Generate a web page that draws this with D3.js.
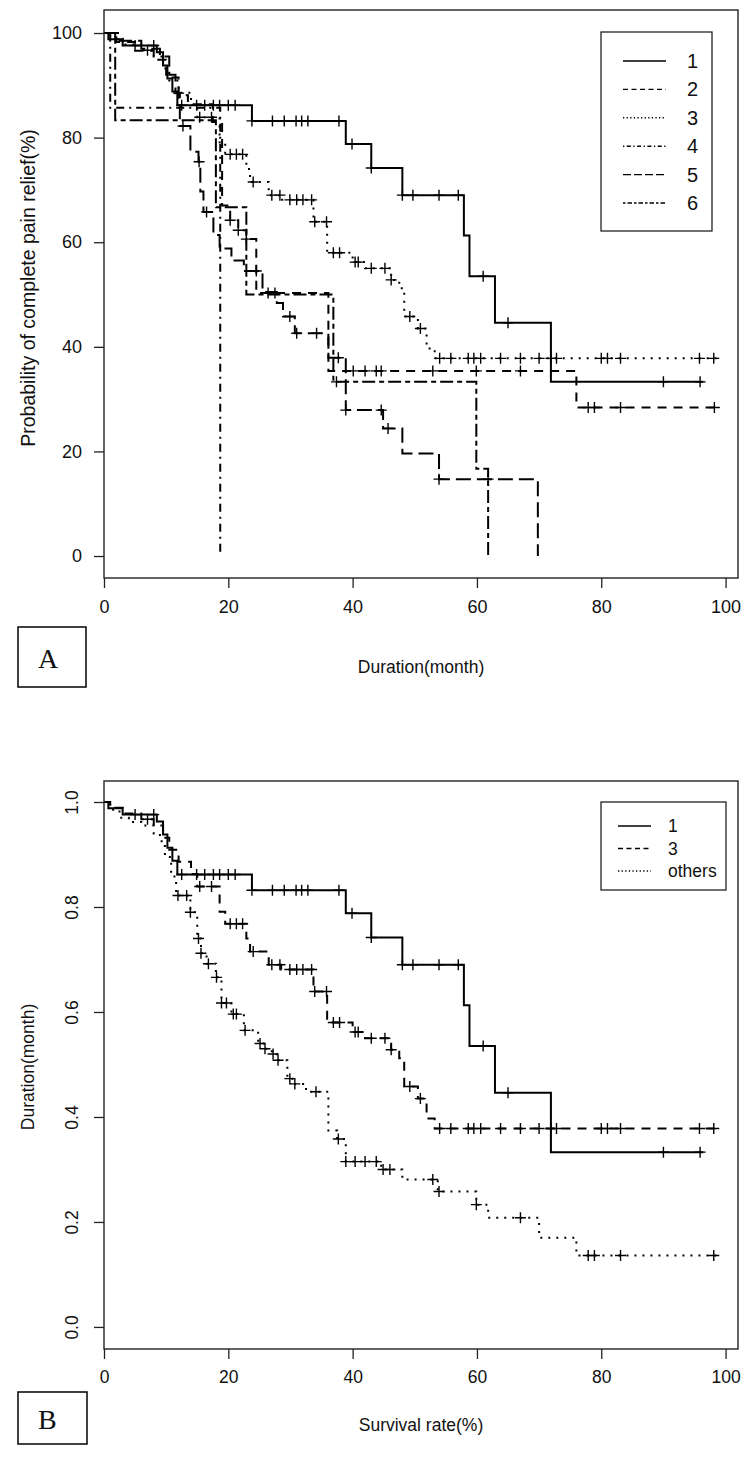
<!DOCTYPE html>
<html><head><meta charset="utf-8">
<script src="https://cdn.jsdelivr.net/npm/d3@7"></script>
<style>body{margin:0;background:#fff}</style>
</head><body>
<script>
// ---------- Panel A data (percent) ----------
const xTicks = [0, 20, 40, 60, 80, 100];
const yTicksA = [0, 20, 40, 60, 80, 100];
const yTicksB = [0, 0.2, 0.4, 0.6, 0.8, 1.0];
const legendA = ["1", "2", "3", "4", "5", "6"];
const legendB = ["1", "3", "others"];

const g1Time = [0, 0.7, 3, 8.5, 9.5, 10.2, 11, 11.8, 23.8, 38.9, 43.0, 48.0, 57.9, 58.8, 62.9, 71.9];
const g1Surv = [100, 98.8, 97.6, 96.3, 93.8, 91.3, 88.8, 86.2, 83.2, 78.8, 74.2, 69.0, 61.3, 53.5, 44.6, 33.3];
const g1Cens = [5, 8, 12.5, 14.9, 16.2, 17.6, 18.6, 20.0, 21.1, 23.8, 27.1, 29.0, 30.9, 31.8, 32.8, 37.8, 39.9, 43.0, 48.0, 49.7, 53.9, 57.0, 61.0, 65.0, 90.0, 95.9];
const g1End = 96.4;

const g2Time = [0, 2, 5, 8, 10, 12, 13.5, 17.5, 19, 20.3, 21.6, 22.9, 24.5, 36.1, 76.0];
const g2Surv = [100, 98.3, 96.6, 94.9, 91.5, 88.1, 86.4, 83.0, 67.0, 64.2, 62.3, 60.6, 50.3, 35.4, 28.4];
const g2Cens = [20.3, 21.6, 22.9, 26.4, 27.5, 40.1, 42.0, 43.8, 44.6, 52.9, 59.9, 67.0, 77.9, 78.9, 83.1, 98.2];
const g2End = 98.6;

const g3Time = [0, 1, 3, 6, 8, 9.5, 10.5, 12, 14, 15, 18.6, 19.5, 22.9, 23.5, 26.5, 28.5, 33.7, 35.9, 40.0, 42.0, 46.2, 47.5, 48.3, 50.5, 51.9, 53.2];
const g3Surv = [100, 98.9, 97.8, 96.7, 95.5, 93.2, 90.9, 88.6, 86.3, 83.9, 79.1, 76.8, 74.0, 71.5, 69.0, 68.1, 63.9, 58.0, 56.2, 55.0, 52.8, 51.2, 45.8, 43.5, 39.7, 37.8];
const g3Cens = [7, 15.4, 17.3, 20.3, 21.3, 22.3, 24.0, 27.0, 28.3, 29.9, 31.0, 32.0, 33.4, 33.9, 35.8, 36.9, 37.9, 40.4, 40.9, 43.0, 45.2, 46.2, 49.2, 50.9, 54.0, 55.8, 58.6, 59.5, 60.6, 63.8, 67.0, 70.0, 71.9, 72.8, 80.0, 81.0, 83.1, 95.8, 98.1];
const g3End = 98.8;

const g4Time = [0, 1.0, 18.7];
const g4Surv = [100, 85.7, 0];
const g4Cens = [];
const g4End = 18.7;

const g5Time = [0, 2.5, 6, 9, 10.5, 11.5, 12.2, 13.9, 15.2, 15.5, 16.0, 17.6, 18.6, 20.5, 22.5, 25.5, 27.8, 28.8, 30.7, 36.1, 38.9, 44.9, 48.0, 53.9, 69.8];
const g5Surv = [100, 98.5, 97, 95.5, 92, 88.5, 82.2, 77.3, 75.4, 69.7, 65.8, 61.4, 58.8, 56.5, 54.5, 50.5, 48.4, 45.8, 42.6, 37.9, 27.9, 24.4, 19.6, 14.7, 0];
const g5Cens = [12, 12.7, 15.3, 16.5, 24.5, 29.9, 31.0, 34.2, 37.7, 38.9, 44.6, 45.7, 53.9, 61.8];
const g5End = 69.8;

const g6Time = [0, 1.8, 18.0, 22.9, 36.9, 59.9, 61.8];
const g6Surv = [100, 83.3, 66.7, 50.0, 33.3, 16.7, 0];
const g6Cens = [37.4];
const g6End = 61.8;

// ---------- Panel B data (proportion) ----------
const b1Time = g1Time, b1Surv = g1Surv.map(v => v / 100), b1Cens = g1Cens, b1End = g1End;
const b3Time = g3Time, b3Surv = g3Surv.map(v => v / 100), b3Cens = g3Cens, b3End = g3End;
const bOTime = [0, 1, 2.5, 4, 6, 8, 9, 9.8, 10.8, 11.6, 13.9, 15.0, 15.6, 16.5, 18.0, 18.9, 20.5, 22.5, 24.8, 25.7, 27.0, 27.8, 29.5, 30.5, 32.5, 36.1, 37.5, 38.9, 44.6, 48.0, 53.7, 59.9, 61.8, 70.0, 76.0];
const bOSurv = [1, 0.985, 0.970, 0.962, 0.955, 0.940, 0.925, 0.895, 0.858, 0.822, 0.790, 0.740, 0.712, 0.692, 0.666, 0.617, 0.596, 0.565, 0.540, 0.530, 0.520, 0.508, 0.473, 0.463, 0.448, 0.374, 0.358, 0.315, 0.300, 0.281, 0.258, 0.233, 0.208, 0.170, 0.136];
const bOCens = [11.9, 13.3, 13.9, 15.2, 15.6, 16.8, 18.1, 18.9, 19.7, 20.8, 21.3, 22.7, 25.1, 25.9, 27.2, 28.0, 29.9, 30.7, 34.1, 37.7, 38.9, 40.4, 42.0, 43.8, 44.9, 46.0, 52.9, 53.9, 59.9, 67.0, 77.9, 78.9, 83.1, 98.1];
const bOEnd = 98.5;

// ---------- drawing ----------
const W = 754, H = 1463;
const FONT = "'Liberation Sans', Arial, sans-serif";
const svg = d3.select("body").append("svg").attr("width", W).attr("height", H).style("display", "block");
svg.append("rect").attr("width", W).attr("height", H).attr("fill", "#fff");

const DASH = {
  solid: null,
  dashed: "9,7",
  dotted: "2,6",
  dotdash: "2,5,8,5",
  longdash: "15,6",
  twodash: "5,4,13,4"
};
const LDASH = {
  solid: null,
  dashed: "5,3.5",
  dotted: "1.3,2.3",
  dotdash: "1.3,2.5,4,2.5",
  longdash: "8,3",
  twodash: "2.5,2,4.5,2"
};

function survAt(time, surv, t) {
  let v = surv[0];
  for (let i = 0; i < time.length; i++) if (time[i] <= t + 1e-9) v = surv[i];
  return v;
}

function drawPanel(p) {
  const g = svg.append("g");
  const x = d3.scaleLinear().domain([0, 102]).range([p.left, p.right]);
  const y = d3.scaleLinear().domain(p.yDomain).range([p.bottom, p.top]);

  const line = d3.line().x(d => x(d[0])).y(d => y(d[1])).curve(d3.curveStepAfter);
  p.groups.forEach(gr => {
    const pts = gr.time.map((t, i) => [t, gr.surv[i]]);
    pts.push([gr.end, gr.surv[gr.surv.length - 1]]);
    g.append("path").attr("d", line(pts)).attr("fill", "none")
      .attr("stroke", "#000").attr("stroke-width", 2)
      .attr("stroke-dasharray", DASH[gr.style]);
    const cr = 5.5;
    gr.cens.forEach(t => {
      const cx = x(t), cy = y(survAt(gr.time, gr.surv, t));
      g.append("path").attr("d", `M${cx - cr},${cy}H${cx + cr}M${cx},${cy - cr}V${cy + cr}`)
        .attr("stroke", "#000").attr("stroke-width", 1.4).attr("fill", "none");
    });
  });

  g.append("rect").attr("x", p.left).attr("y", p.top).attr("width", p.right - p.left).attr("height", p.bottom - p.top)
    .attr("fill", "none").attr("stroke", "#222").attr("stroke-width", 1.4);

  const xa = g.append("g").attr("transform", `translate(0,${p.bottom})`)
    .call(d3.axisBottom(x).tickValues(xTicks).tickSize(10).tickPadding(12).tickFormat(d3.format("d")));
  xa.select(".domain").remove();
  xa.selectAll("line").attr("stroke", "#222").attr("stroke-width", 1.3);
  xa.selectAll("text").attr("font-family", FONT).attr("font-size", p.tickFont).attr("fill", "#111");

  const ya = g.append("g").attr("transform", `translate(${p.left},0)`)
    .call(d3.axisLeft(y).tickValues(p.yTicks).tickSize(10).tickPadding(12).tickFormat(p.yFormat));
  ya.select(".domain").remove();
  ya.selectAll("line").attr("stroke", "#222").attr("stroke-width", 1.3);
  const yt = ya.selectAll("text").attr("font-family", FONT).attr("font-size", p.tickFont).attr("fill", "#111");
  if (p.rotateY) {
    yt.attr("x", null).attr("dy", null).attr("text-anchor", "middle")
      .attr("dominant-baseline", "central")
      .attr("transform", `translate(${p.yLabelX - p.left},0) rotate(-90)`);
  } else {
    yt.attr("x", p.yLabelX - p.left);
  }

  g.append("text").attr("x", p.xTitle[0]).attr("y", p.xTitle[1]).attr("text-anchor", "middle")
    .attr("dominant-baseline", "central")
    .attr("font-family", FONT).attr("font-size", p.titleFont).attr("fill", "#111").text(p.xLabel);
  g.append("text").attr("transform", `translate(${p.yTitle[0]},${p.yTitle[1]}) rotate(-90)`)
    .attr("text-anchor", "middle").attr("dominant-baseline", "central")
    .attr("font-family", FONT).attr("font-size", p.yTitleFont).attr("fill", "#111").text(p.yLabel);

  const L = p.legend;
  g.append("rect").attr("x", L.x0).attr("y", L.y0).attr("width", L.x1 - L.x0).attr("height", L.y1 - L.y0)
    .attr("fill", "#fff").attr("stroke", "#222").attr("stroke-width", 1.3);
  L.labels.forEach((lab, i) => {
    const yy = L.firstY + i * L.step;
    g.append("line").attr("x1", L.lx0).attr("x2", L.lx1).attr("y1", yy).attr("y2", yy)
      .attr("stroke", "#000").attr("stroke-width", 1.4).attr("stroke-dasharray", LDASH[p.groups[i].style]);
    g.append("text").attr("x", L.tx).attr("y", yy).attr("dominant-baseline", "central")
      .attr("font-family", FONT).attr("font-size", L.font).attr("fill", "#111").text(lab);
  });

  const B = p.letterBox;
  g.append("rect").attr("x", B.x).attr("y", B.y).attr("width", B.w).attr("height", B.h)
    .attr("fill", "#fff").attr("stroke", "#111").attr("stroke-width", 1.6);
  g.append("text").attr("x", B.x + 20).attr("y", B.y + B.h / 2 + 1).attr("dominant-baseline", "central")
    .attr("font-family", "'Liberation Serif', 'DejaVu Serif', serif").attr("font-size", 28).attr("fill", "#111").text(p.letter);
}

drawPanel({
  left: 104, right: 738, top: 10, bottom: 578,
  yDomain: [-4.2, 104.4], yTicks: yTicksA, yFormat: d3.format("d"), rotateY: false, yLabelX: 82,
  tickFont: 18, titleFont: 17.5, yTitleFont: 19.5,
  xLabel: "Duration(month)", xTitle: [421, 667],
  yLabel: "Probability of complete pain relief(%)", yTitle: [28, 288],
  groups: [
    { time: g1Time, surv: g1Surv, cens: g1Cens, end: g1End, style: "solid" },
    { time: g2Time, surv: g2Surv, cens: g2Cens, end: g2End, style: "dashed" },
    { time: g3Time, surv: g3Surv, cens: g3Cens, end: g3End, style: "dotted" },
    { time: g4Time, surv: g4Surv, cens: g4Cens, end: g4End, style: "dotdash" },
    { time: g5Time, surv: g5Surv, cens: g5Cens, end: g5End, style: "longdash" },
    { time: g6Time, surv: g6Surv, cens: g6Cens, end: g6End, style: "twodash" }
  ],
  legend: { x0: 601, x1: 712, y0: 32, y1: 231, lx0: 623, lx1: 666, tx: 687, firstY: 61, step: 28.4, font: 20, labels: legendA },
  letterBox: { x: 18, y: 627, w: 68, h: 60 }, letter: "A"
});

drawPanel({
  left: 104, right: 738, top: 781, bottom: 1349,
  yDomain: [-0.042, 1.04], yTicks: yTicksB, yFormat: d3.format(".1f"), rotateY: true, yLabelX: 72,
  tickFont: 17.5, titleFont: 17.5, yTitleFont: 17.5,
  xLabel: "Survival rate(%)", xTitle: [421, 1425],
  yLabel: "Duration(month)", yTitle: [28, 1067],
  groups: [
    { time: b1Time, surv: b1Surv, cens: b1Cens, end: b1End, style: "solid" },
    { time: b3Time, surv: b3Surv, cens: b3Cens, end: b3End, style: "dashed" },
    { time: bOTime, surv: bOSurv, cens: bOCens, end: bOEnd, style: "dotted" }
  ],
  legend: { x0: 601, x1: 726, y0: 802, y1: 890, lx0: 618, lx1: 651, tx: 668, firstY: 826, step: 22.5, font: 17.5, labels: legendB },
  letterBox: { x: 18, y: 1392, w: 69, h: 52 }, letter: "B"
});
</script>
</body></html>
